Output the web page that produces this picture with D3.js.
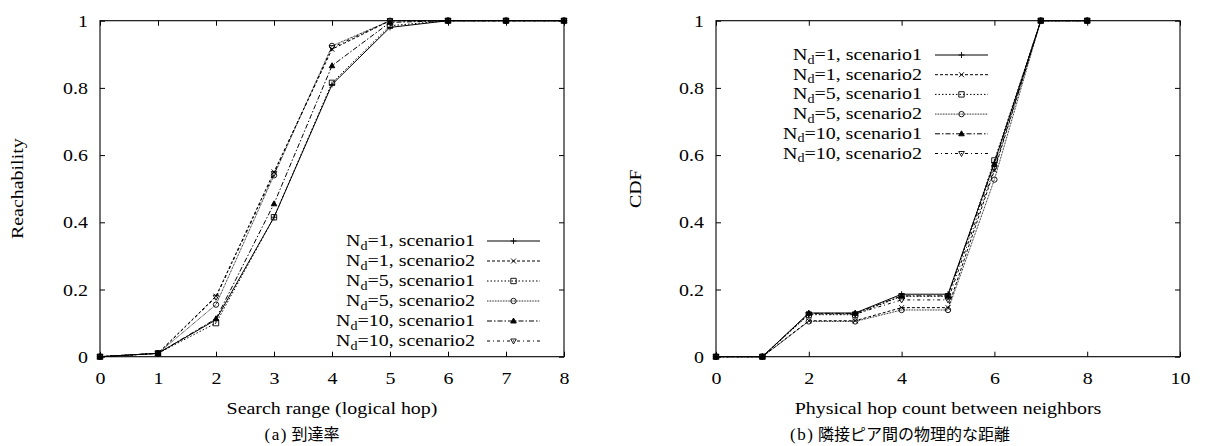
<!DOCTYPE html>
<html>
<head>
<meta charset="utf-8">
<script src="https://cdn.jsdelivr.net/npm/d3@7"></script>
<style>
  body { margin: 0; background: #fff; }
  text { font-family: "Liberation Serif", "DejaVu Serif", serif; fill: #000; }
  .cjk { font-family: "Noto Sans CJK JP", sans-serif; }
</style>
</head>
<body>
<div id="chart"></div>
<script>
/*
DATA
*/
const seriesNames = [
  ["1", "scenario1"], ["1", "scenario2"],
  ["5", "scenario1"], ["5", "scenario2"],
  ["10", "scenario1"], ["10", "scenario2"]
];

// (a) reachability vs search range (logical hop)
const hopsA = [0, 1, 2, 3, 4, 5, 6, 7, 8];
const reachNd1s1 = [0, 0.01, 0.11, 0.415, 0.81, 0.98, 1, 1, 1];
const reachNd1s2 = [0, 0.01, 0.18, 0.55, 0.915, 1, 1, 1, 1];
const reachNd5s1 = [0, 0.01, 0.10, 0.415, 0.815, 0.985, 1, 1, 1];
const reachNd5s2 = [0, 0.01, 0.155, 0.54, 0.925, 1, 1, 1, 1];
const reachNd10s1 = [0, 0.01, 0.113, 0.455, 0.866, 0.995, 1, 1, 1];
const reachNd10s2 = [0, 0.01, 0.177, 0.545, 0.92, 1, 1, 1, 1];

// (b) CDF of physical hop count between neighbors
const hopsB = [0, 1, 2, 3, 4, 5, 6, 7, 8];
const cdfNd1s1 = [0, 0, 0.13, 0.13, 0.186, 0.186, 0.578, 1, 1];
const cdfNd1s2 = [0, 0, 0.107, 0.107, 0.146, 0.146, 0.555, 1, 1];
const cdfNd5s1 = [0, 0, 0.125, 0.125, 0.18, 0.18, 0.584, 1, 1];
const cdfNd5s2 = [0, 0, 0.105, 0.105, 0.139, 0.139, 0.527, 1, 1];
const cdfNd10s1 = [0, 0, 0.129, 0.129, 0.181, 0.181, 0.574, 1, 1];
const cdfNd10s2 = [0, 0, 0.127, 0.127, 0.169, 0.169, 0.56, 1, 1];

const ticksA = [0, 1, 2, 3, 4, 5, 6, 7, 8];
const ticksB = [0, 2, 4, 6, 8, 10];
const ticksY = [0, 0.2, 0.4, 0.6, 0.8, 1];

/*
STYLES (gnuplot-like)
*/
const dashes = [null, "3,2", "1.5,2", "0.8,0.8", "5,2,1.5,2", "3,3,1,3"];

const markers = [
  { d: "M-3,0H3M0,-3V3", fill: "none" },
  { d: "M-2.5,-2.5L2.5,2.5M-2.5,2.5L2.5,-2.5", fill: "none" },
  { d: "M-2.7,-2.7H2.7V2.7H-2.7Z", fill: "none" },
  { d: "M2.7,0A2.7,2.7 0 1,1 -2.7,0A2.7,2.7 0 1,1 2.7,0Z", fill: "none" },
  { d: "M0,-3L2.8,2L-2.8,2Z", fill: "#000" },
  { d: "M0,3L2.8,-2L-2.8,-2Z", fill: "none" }
];

// the postscript Times in the picture is a bit wider than it is tall
const FS = 17.5;
const LFS = 17;
const SX = 1.14;

/*
SVG ROOT
*/
const W = 1205, H = 446;
const svg = d3.select("#chart").append("svg")
  .attr("width", W).attr("height", H);

function drawPanel(opt) {
  const x = d3.scaleLinear().domain(opt.xDomain).range([opt.left, opt.right]);
  const y = d3.scaleLinear().domain([0, 1]).range([opt.bottom, opt.top]);
  const g = svg.append("g");

  // ticks on all four sides, pointing inward
  const fmtY = (d) => (d === 0 || d === 1) ? d3.format("d")(d) : d3.format(".1f")(d);
  g.append("g").attr("transform", `translate(0,${opt.bottom})`)
    .call(d3.axisBottom(x).tickValues(opt.xTicks).tickSize(-5).tickPadding(15).tickFormat(d3.format("d")))
    .call(ax => {
      ax.select(".domain").remove();
      ax.selectAll("text").attr("font-size", FS).attr("font-family", null).attr("transform", `scale(${SX},1)`);
    });
  g.append("g").attr("transform", `translate(0,${opt.top})`)
    .call(d3.axisTop(x).tickValues(opt.xTicks).tickSize(-5).tickFormat(""))
    .call(ax => ax.select(".domain").remove());
  g.append("g").attr("transform", `translate(${opt.left},0)`)
    .call(d3.axisLeft(y).tickValues(ticksY).tickSize(-5).tickPadding(12 / SX).tickFormat(fmtY))
    .call(ax => {
      ax.select(".domain").remove();
      ax.selectAll("text").attr("font-size", FS).attr("font-family", null).attr("transform", `scale(${SX},1)`);
    });
  g.append("g").attr("transform", `translate(${opt.right},0)`)
    .call(d3.axisRight(y).tickValues(ticksY).tickSize(-5).tickFormat(""))
    .call(ax => ax.select(".domain").remove());
  g.selectAll(".tick line").attr("stroke", "#000");

  // frame
  g.append("rect")
    .attr("x", opt.left).attr("y", opt.top)
    .attr("width", opt.right - opt.left).attr("height", opt.bottom - opt.top)
    .attr("fill", "none").attr("stroke", "#000").attr("stroke-width", 1.1);

  const line = d3.line().x((d) => x(d[0])).y((d) => y(d[1]));

  opt.series.forEach((vals, i) => {
    const pts = opt.xs.map((xv, j) => [xv, vals[j]]);
    g.append("path")
      .datum(pts)
      .attr("d", line)
      .attr("fill", "none")
      .attr("stroke", "#000")
      .attr("stroke-width", 1)
      .attr("stroke-dasharray", dashes[i]);
    g.selectAll(".m" + i)
      .data(pts)
      .join("path")
      .attr("class", "m" + i)
      .attr("transform", (d) => `translate(${x(d[0])},${y(d[1])})`)
      .attr("d", markers[i].d)
      .attr("fill", markers[i].fill)
      .attr("stroke", "#000")
      .attr("stroke-width", 0.9);
  });

  // legend
  seriesNames.forEach((s, i) => {
    const ly = opt.legY + i * opt.legStep;
    const t = g.append("text")
      .attr("transform", `translate(${opt.legTextX},${ly + 5}) scale(${SX * FS / LFS},1)`)
      .attr("text-anchor", "end").attr("font-size", LFS);
    t.append("tspan").text("N");
    t.append("tspan").attr("dy", 3.5).attr("font-size", 12).text("d");
    t.append("tspan").attr("dy", -3.5).text(`=${s[0]}, ${s[1]}`);
    g.append("line")
      .attr("x1", opt.legLineX).attr("x2", opt.legLineX + 53)
      .attr("y1", ly).attr("y2", ly)
      .attr("stroke", "#000").attr("stroke-width", 1)
      .attr("stroke-dasharray", dashes[i]);
    g.append("path")
      .attr("transform", `translate(${opt.legLineX + 26.5},${ly})`)
      .attr("d", markers[i].d)
      .attr("fill", markers[i].fill)
      .attr("stroke", "#000").attr("stroke-width", 0.9);
  });

  // axis titles
  g.append("text")
    .attr("transform", `translate(${(opt.left + opt.right) / 2},414) scale(${SX},1)`)
    .attr("text-anchor", "middle").attr("font-size", FS)
    .text(opt.xTitle);
  g.append("text")
    .attr("transform", `translate(${opt.yTitleX},${(opt.top + opt.bottom) / 2}) rotate(-90) scale(${SX},1)`)
    .attr("text-anchor", "middle").attr("font-size", FS)
    .text(opt.yTitle);

  // sub-figure caption
  const cap = g.append("text")
    .attr("x", opt.capX).attr("y", 440)
    .attr("text-anchor", "middle");
  cap.append("tspan").attr("font-size", 17).attr("letter-spacing", 1.5).text(opt.capTag);
  cap.append("tspan").attr("class", "cjk").attr("font-size", 16).text(" " + opt.caption);
}

drawPanel({
  left: 100, right: 564, top: 20.7, bottom: 356.7,
  xDomain: [0, 8], xTicks: ticksA, xs: hopsA,
  series: [reachNd1s1, reachNd1s2, reachNd5s1, reachNd5s2, reachNd10s1, reachNd10s2],
  legY: 241, legStep: 20, legTextX: 475, legLineX: 487,
  xTitle: "Search range (logical hop)", yTitle: "Reachability", yTitleX: 23,
  capTag: "(a)", caption: "到達率", capX: 302
});

drawPanel({
  left: 716, right: 1180, top: 20.7, bottom: 356.7,
  xDomain: [0, 10], xTicks: ticksB, xs: hopsB,
  series: [cdfNd1s1, cdfNd1s2, cdfNd5s1, cdfNd5s2, cdfNd10s1, cdfNd10s2],
  legY: 55, legStep: 19.7, legTextX: 922, legLineX: 935,
  xTitle: "Physical hop count between neighbors", yTitle: "CDF", yTitleX: 641,
  capTag: "(b)", caption: "隣接ピア間の物理的な距離", capX: 900
});
</script>
</body>
</html>
